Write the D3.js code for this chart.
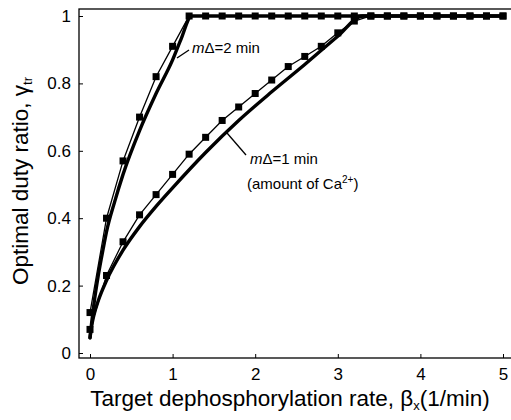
<!DOCTYPE html>
<html>
<head>
<meta charset="utf-8">
<script src="https://cdn.jsdelivr.net/npm/d3@7"></script>
<style>
  body { margin: 0; background: #fff; }
  text { font-family: "Liberation Sans", Arial, sans-serif; fill: #000; }
</style>
</head>
<body>
<div id="chart"></div>
<script>
const width = 511;
const height = 420;

// x positions of the square markers
const xMarks = [0, 0.2, 0.4, 0.6, 0.8, 1.0, 1.2, 1.4, 1.6, 1.8, 2.0, 2.2, 2.4, 2.6, 2.8, 3.0, 3.2, 3.4, 3.6, 3.8, 4.0, 4.2, 4.4, 4.6, 4.8, 5.0];
// thin lines with squares
const marks2 = [0.12, 0.40, 0.57, 0.70, 0.82, 0.91, 1, 1, 1, 1, 1, 1, 1, 1, 1, 1, 1, 1, 1, 1, 1, 1, 1, 1, 1, 1];
const marks1 = [0.07, 0.23, 0.33, 0.41, 0.47, 0.53, 0.59, 0.64, 0.69, 0.73, 0.77, 0.81, 0.85, 0.88, 0.91, 0.95, 0.985, 1, 1, 1, 1, 1, 1, 1, 1, 1];

// thick smooth curves
const xThick2 = [0, 0.02, 0.05, 0.1, 0.16, 0.2, 0.3, 0.4, 0.6, 0.8, 1.0, 1.1, 1.23, 5];
const yThick2 = [0.045, 0.09, 0.15, 0.23, 0.31, 0.36, 0.45, 0.53, 0.66, 0.77, 0.87, 0.93, 1, 1];
const xThick1 = [0, 0.02, 0.05, 0.1, 0.2, 0.4, 0.6, 0.8, 1.0, 1.4, 1.8, 2.2, 2.6, 3.0, 3.3, 5];
const yThick1 = [0.045, 0.08, 0.115, 0.155, 0.215, 0.305, 0.375, 0.435, 0.49, 0.595, 0.69, 0.775, 0.856, 0.94, 1, 1];

const xTicks = [0, 1, 2, 3, 4, 5];
const yTicks = [0, 0.2, 0.4, 0.6, 0.8, 1];
const yTickLabels = ["0", "0.2", "0.4", "0.6", "0.8", "1"];

// frame of the plot
const frame = { left: 79, top: 9, right: 513, bottom: 358 };

const x = d3.scaleLinear().domain([0, 5]).range([90, 503]);
const y = d3.scaleLinear().domain([0, 1]).range([353, 16]);

const svg = d3.select("#chart").append("svg")
  .attr("width", width)
  .attr("height", height);

svg.append("rect")
  .attr("x", frame.left).attr("y", frame.top)
  .attr("width", frame.right - frame.left).attr("height", frame.bottom - frame.top)
  .attr("fill", "none").attr("stroke", "#000").attr("stroke-width", 1.3);

// axes, ticks pointing inward
const xAxis = svg.append("g")
  .attr("transform", `translate(0,${frame.bottom})`)
  .call(d3.axisBottom(x).tickValues(xTicks).tickSizeInner(-4).tickSizeOuter(0).tickPadding(10).tickFormat(d3.format("d")));
const yAxis = svg.append("g")
  .attr("transform", `translate(${frame.left},0)`)
  .call(d3.axisLeft(y).tickValues(yTicks).tickSizeInner(-4).tickSizeOuter(0).tickPadding(8).tickFormat((d, i) => yTickLabels[i]));
[xAxis, yAxis].forEach(g => {
  g.select(".domain").remove();
  g.selectAll(".tick line").attr("stroke", "#000").attr("stroke-width", 1);
  g.selectAll(".tick text").style("font-size", "17px").style("font-family", "Liberation Sans, Arial, sans-serif");
});

const line = d3.line().x(d => x(d[0])).y(d => y(d[1]));
const smooth = d3.line().x(d => x(d[0])).y(d => y(d[1])).curve(d3.curveMonotoneX);

// thick curves
[[xThick2, yThick2], [xThick1, yThick1]].forEach(([xs, ys]) => {
  svg.append("path")
    .attr("d", smooth(d3.zip(xs, ys)))
    .attr("fill", "none").attr("stroke", "#000").attr("stroke-width", 3.4)
    .attr("stroke-linejoin", "round").attr("stroke-linecap", "round");
});

// thin curves with squares
[marks2, marks1].forEach(ys => {
  const pts = d3.zip(xMarks, ys);
  svg.append("path")
    .attr("d", line(pts))
    .attr("fill", "none").attr("stroke", "#000").attr("stroke-width", 1.3);
  svg.append("g").selectAll("rect").data(pts).enter().append("rect")
    .attr("x", d => x(d[0]) - 3.5).attr("y", d => y(d[1]) - 3.5)
    .attr("width", 7).attr("height", 7).attr("fill", "#000");
});

// annotations
svg.append("line").attr("x1", 177).attr("y1", 58).attr("x2", 189).attr("y2", 50)
  .attr("stroke", "#000").attr("stroke-width", 1.3);
const t2 = svg.append("text").attr("x", 192).attr("y", 53).style("font-size", "15px");
t2.append("tspan").style("font-style", "italic").text("m");
t2.append("tspan").text("Δ=2 min");

svg.append("line").attr("x1", 227).attr("y1", 133).attr("x2", 246).attr("y2", 155)
  .attr("stroke", "#000").attr("stroke-width", 1.3);
const t1 = svg.append("text").attr("x", 250).attr("y", 164).style("font-size", "15px");
t1.append("tspan").style("font-style", "italic").text("m");
t1.append("tspan").text("Δ=1 min");
const t3 = svg.append("text").attr("x", 247).attr("y", 189).style("font-size", "15px");
t3.append("tspan").text("(amount of Ca");
t3.append("tspan").attr("dy", -6).style("font-size", "10px").text("2+");
t3.append("tspan").attr("dy", 6).text(")");

// axis titles
const xt = svg.append("text").attr("x", 290).attr("y", 406).attr("text-anchor", "middle").style("font-size", "22.5px");
xt.append("tspan").text("Target dephosphorylation rate, β");
xt.append("tspan").attr("dy", 4).style("font-size", "13px").text("x");
xt.append("tspan").attr("dy", -4).text("(1/min)");

const yt = svg.append("text").attr("transform", "translate(28,181) rotate(-90)").attr("text-anchor", "middle").style("font-size", "22.5px");
yt.append("tspan").text("Optimal duty ratio, γ");
yt.append("tspan").attr("dy", 4).style("font-size", "13px").text("tr");
</script>
</body>
</html>
